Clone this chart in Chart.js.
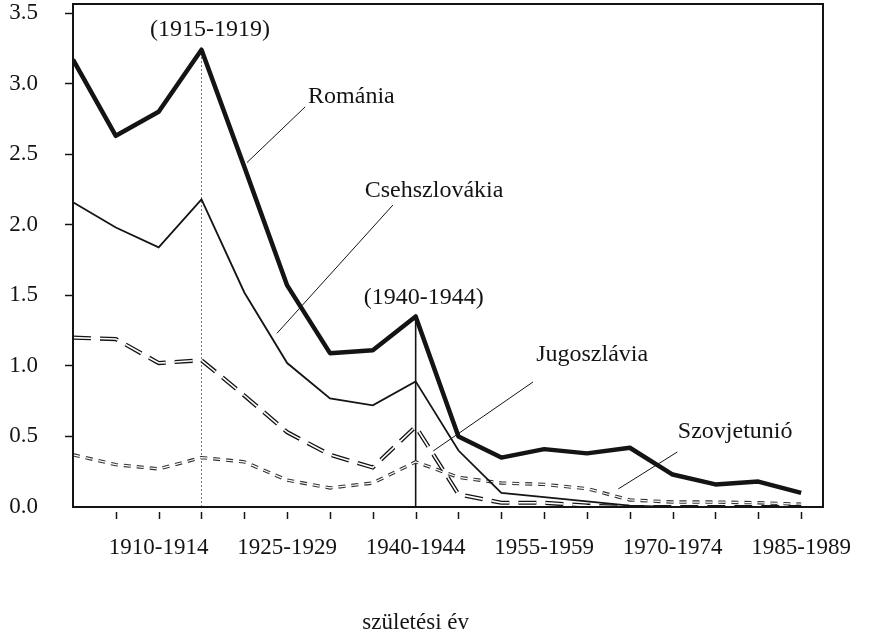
<!DOCTYPE html>
<html>
<head>
<meta charset="utf-8">
<script src="https://cdn.jsdelivr.net/npm/chart.js@4/dist/chart.umd.min.js"></script>
<style>
  html, body { margin: 0; padding: 0; background: #ffffff; }
  #wrap { width: 872px; height: 639px; position: relative; }
</style>
</head>
<body>
<div id="wrap"><canvas id="c" width="872" height="639"></canvas></div>
<script>
// ---- data ----
const categories = ["1900-1904","1905-1909","1910-1914","1915-1919","1920-1924","1925-1929",
  "1930-1934","1935-1939","1940-1944","1945-1949","1950-1954","1955-1959",
  "1960-1964","1965-1969","1970-1974","1975-1979","1980-1984","1985-1989"];
const shownTickLabels = ["1910-1914","1925-1929","1940-1944","1955-1959","1970-1974","1985-1989"];
const yTickValues = [0, 0.5, 1.0, 1.5, 2.0, 2.5, 3.0, 3.5];

const romania       = [3.17, 2.63, 2.80, 3.24, 2.41, 1.57, 1.09, 1.11, 1.35, 0.50, 0.35, 0.41, 0.38, 0.42, 0.23, 0.16, 0.18, 0.10];
const csehszlovakia = [2.16, 1.98, 1.84, 2.18, 1.52, 1.02, 0.77, 0.72, 0.89, 0.40, 0.10, 0.07, 0.04, 0.01, 0.00, 0.00, 0.00, 0.00];
const jugoszlavia   = [1.20, 1.19, 1.02, 1.04, 0.79, 0.53, 0.37, 0.28, 0.57, 0.09, 0.03, 0.03, 0.01, 0.00, 0.00, 0.00, 0.00, 0.00];
const szovjetunio   = [0.37, 0.30, 0.27, 0.35, 0.32, 0.19, 0.135, 0.17, 0.32, 0.21, 0.17, 0.16, 0.13, 0.05, 0.035, 0.035, 0.03, 0.02];

const seriesNames = ["Románia", "Csehszlovákia", "Jugoszlávia", "Szovjetunió"];
const highlightedPeriods = ["1915-1919", "1940-1944"];
const xAxisTitle = "születési év";

// annotation labels and leader lines (in data units: category index, value)
const labelTexts = ["(1915-1919)", "Románia", "Csehszlovákia", "(1940-1944)", "Jugoszlávia", "Szovjetunió"];
const labelX = [3.2, 6.5, 8.43, 8.19, 12.12, 15.46];
const labelY = [3.38, 2.91, 2.24, 1.48, 1.08, 0.53];
const leaderFrom = [[5.42, 2.835], [7.47, 2.14], [10.74, 0.886], [14.11, 0.39]];
const leaderTo   = [[4.06, 2.44], [4.76, 1.23], [8.41, 0.397], [12.73, 0.128]];

// ---- helpers ----
const pts = arr => arr.map((v, i) => ({ x: i, y: v }));
const iA = categories.indexOf(highlightedPeriods[0]);
const iB = categories.indexOf(highlightedPeriods[1]);
const INK = '#141414';
const SERIF = '"Liberation Serif", "DejaVu Serif", serif';

const overlay = {
  id: 'overlay',
  afterDraw(chart) {
    const ctx = chart.ctx;
    const a = chart.chartArea;
    const xs = chart.scales.x, ys = chart.scales.y;
    ctx.save();
    // frame
    ctx.strokeStyle = INK;
    ctx.lineWidth = 2;
    ctx.strokeRect(a.left, a.top, a.right - a.left, a.bottom - a.top);
    // x tick marks (detached below the axis)
    ctx.lineWidth = 1.5;
    for (let i = 1; i < categories.length; i++) {
      const px = Math.round(xs.getPixelForValue(i)) + 0.5;
      ctx.beginPath();
      ctx.moveTo(px, a.bottom + 5);
      ctx.lineTo(px, a.bottom + 12);
      ctx.stroke();
    }
    // leader lines
    ctx.lineWidth = 1;
    for (let k = 0; k < leaderFrom.length; k++) {
      ctx.beginPath();
      ctx.moveTo(xs.getPixelForValue(leaderFrom[k][0]), ys.getPixelForValue(leaderFrom[k][1]));
      ctx.lineTo(xs.getPixelForValue(leaderTo[k][0]), ys.getPixelForValue(leaderTo[k][1]));
      ctx.stroke();
    }
    // labels
    ctx.fillStyle = INK;
    ctx.font = '24px ' + SERIF;
    ctx.textAlign = 'center';
    ctx.textBaseline = 'middle';
    for (let k = 0; k < labelTexts.length; k++) {
      ctx.fillText(labelTexts[k], xs.getPixelForValue(labelX[k]), ys.getPixelForValue(labelY[k]));
    }
    // axis title
    ctx.font = '23px ' + SERIF;
    ctx.fillText(xAxisTitle, xs.getPixelForValue(iB), 623);
    ctx.restore();
  }
};

new Chart(document.getElementById('c'), {
  type: 'line',
  data: {
    datasets: [
      { label: seriesNames[0], data: pts(romania), borderColor: INK, borderWidth: 4.5, pointRadius: 0, tension: 0, borderJoinStyle: 'round' },
      { label: seriesNames[1], data: pts(csehszlovakia), borderColor: INK, borderWidth: 1.8, pointRadius: 0, tension: 0 },
      { label: seriesNames[2] + ' (in)', data: pts(jugoszlavia), borderColor: '#ffffff', borderWidth: 1.6, borderDash: [18, 9], pointRadius: 0, tension: 0 },
      { label: seriesNames[2], data: pts(jugoszlavia), borderColor: INK, borderWidth: 4.2, borderDash: [18, 9], pointRadius: 0, tension: 0 },
      { label: seriesNames[3] + ' (in)', data: pts(szovjetunio), borderColor: '#ffffff', borderWidth: 1.2, borderDash: [7, 6], pointRadius: 0, tension: 0 },
      { label: seriesNames[3], data: pts(szovjetunio), borderColor: '#333333', borderWidth: 3.4, borderDash: [7, 6], pointRadius: 0, tension: 0 },
      { label: highlightedPeriods[0], data: [{ x: iA, y: 0 }, { x: iA, y: romania[iA] }], borderColor: '#777777', borderWidth: 1, borderDash: [2, 2], pointRadius: 0 },
      { label: highlightedPeriods[1], data: [{ x: iB, y: 0 }, { x: iB, y: romania[iB] }], borderColor: INK, borderWidth: 1.6, pointRadius: 0 }
    ]
  },
  options: {
    responsive: false,
    animation: false,
    devicePixelRatio: 1,
    layout: { padding: { top: 4, right: 49, bottom: 0, left: 0 } },
    plugins: { legend: { display: false }, tooltip: { enabled: false }, title: { display: false } },
    scales: {
      x: {
        type: 'linear',
        min: 0,
        max: 17.51,
        afterFit: s => { s.height = 132; s.paddingLeft = 0; s.paddingRight = 0; },
        grid: { display: true, drawOnChartArea: false, drawTicks: false },
        border: { display: false },
        ticks: {
          stepSize: 1,
          includeBounds: false,
          autoSkip: false,
          maxRotation: 0,
          padding: 27,
          color: INK,
          font: { family: SERIF, size: 23 },
          callback: v => (shownTickLabels.includes(categories[v]) ? categories[v] : '')
        }
      },
      y: {
        type: 'linear',
        min: 0,
        max: 3.564,
        afterFit: s => { s.width = 73; s.paddingTop = 0; s.paddingBottom = 0; },
        afterBuildTicks: s => { s.ticks = yTickValues.map(v => ({ value: v })); },
        grid: {
          drawOnChartArea: false,
          drawTicks: true,
          tickLength: 8,
          tickWidth: 1.5,
          tickColor: c => (c.tick && c.tick.value === 0 ? 'rgba(0,0,0,0)' : INK)
        },
        border: { display: false },
        ticks: {
          padding: 27,
          color: INK,
          font: { family: SERIF, size: 23 },
          callback: v => Number(v).toFixed(1)
        }
      }
    }
  },
  plugins: [overlay]
});
</script>
</body>
</html>
